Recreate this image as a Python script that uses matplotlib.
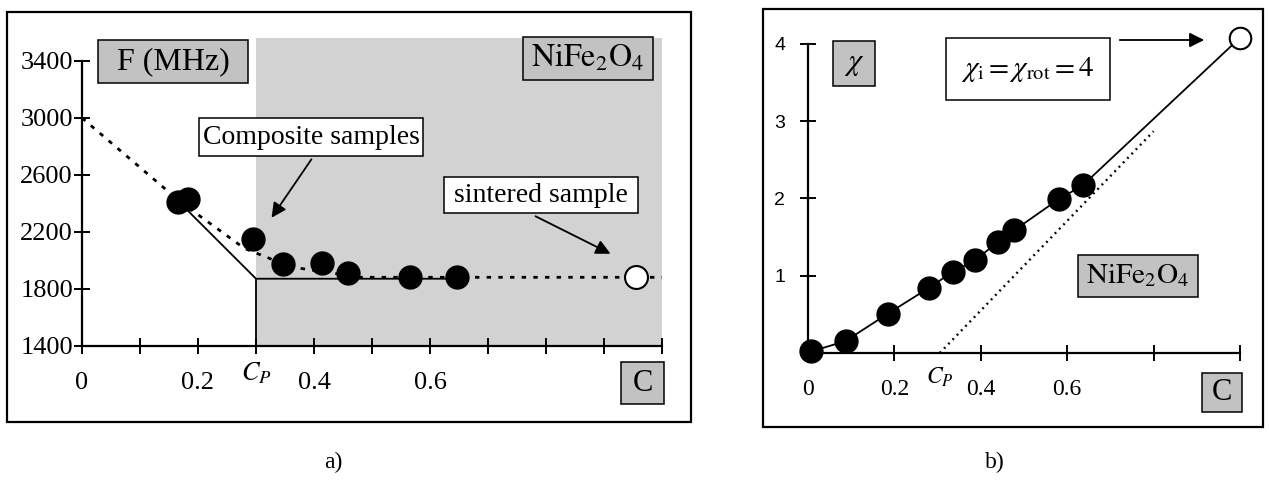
import numpy as np
import matplotlib
matplotlib.use("Agg")
import matplotlib.pyplot as plt
from matplotlib.patches import Rectangle, FancyArrowPatch

plt.rcParams['font.family'] = ['Liberation Serif', 'DejaVu Serif']
plt.rcParams['mathtext.fontset'] = 'stix'

# ---- data (a): resonance frequency vs concentration ----
comp_c = [0.165, 0.183, 0.295, 0.347, 0.414, 0.459, 0.566, 0.647]
comp_f = [2410, 2432, 2151, 1975, 1982, 1912, 1884, 1884]
sint_c = [0.955]
sint_f = [1884]
# dashed guide curve
guide_c = [0, 0.17, 0.28, 0.36, 0.48, 1.0]
guide_f = [3000, 2410, 2085, 1955, 1882, 1882]
# solid model line
model_c = [0.17, 0.3, 0.647]
model_f = [2400, 1872, 1872]
cp_a = 0.3
a_xticks = [0, 0.1, 0.2, 0.3, 0.4, 0.5, 0.6, 0.7, 0.8, 0.9, 1.0]
a_xlabels = ['0', '', '0.2', '', '0.4', '', '0.6', '', '', '', '']
a_yticks = [1400, 1800, 2200, 2600, 3000, 3400]

# ---- data (b): susceptibility vs concentration ----
chi_c = [0.008, 0.087, 0.185, 0.279, 0.335, 0.387, 0.44, 0.478, 0.58, 0.636]
chi_v = [0.02, 0.155, 0.51, 0.84, 1.05, 1.20, 1.44, 1.59, 1.99, 2.17]
rot_c = [1.0]
rot_v = [4.08]
dot_c = [0.305, 0.8]
dot_v = [0, 2.87]
cp_b = 0.305
b_xticks = [0, 0.2, 0.4, 0.6, 0.8, 1.0]
b_xlabels = ['0', '0.2', '0.4', '0.6', '', '']
b_yticks = [1, 2, 3, 4]

W, H = 1269, 494
GRAY_BOX = '#c2c2c2'
SHADE = '#d2d2d2'


def fpt(x, y):
    return (x / W, 1 - y / H)


def box(fig, x0, y0, x1, y1, text, fill, size, **kw):
    fig.patches.append(Rectangle(fpt(x0, y1), (x1 - x0) / W, (y1 - y0) / H,
                                 transform=fig.transFigure, facecolor=fill,
                                 edgecolor='k', lw=1.1, zorder=5))
    cx, cy = fpt((x0 + x1) / 2, (y0 + y1) / 2)
    fig.text(cx, cy, text, ha='center', va='center', fontsize=size, zorder=6, **kw)


def arrow(fig, x0, y0, x1, y1):
    fig.add_artist(FancyArrowPatch(
        fpt(x0, y0), fpt(x1, y1), transform=fig.transFigure,
        arrowstyle='-|>', mutation_scale=22, lw=1.3, color='k', zorder=6))


fig = plt.figure(figsize=(W / 100, H / 100), dpi=100)

# outer frames
fig.patches.append(Rectangle(fpt(7, 422), 684 / W, 410 / H, transform=fig.transFigure,
                             fill=False, edgecolor='k', lw=1.6))
fig.patches.append(Rectangle(fpt(763, 427), 500 / W, 418 / H, transform=fig.transFigure,
                             fill=False, edgecolor='k', lw=1.6))

# ---------------- panel a ----------------
ax = fig.add_axes([82 / W, (H - 346) / H, 580 / W, 308 / H])
ax.set_xlim(0, 1.0)
ax.set_ylim(1400, 3561)
ax.axvspan(cp_a, 1.0, color=SHADE, lw=0, zorder=0)
ax.plot(guide_c, guide_f, color='k', lw=2.0, ls=(0, (1.6, 2.6)), zorder=2)
ax.plot(model_c, model_f, color='k', lw=1.3, zorder=2)
ax.plot([cp_a, cp_a], [1400, model_f[1]], color='k', lw=1.3, zorder=2)
ax.plot(comp_c, comp_f, 'o', color='k', ms=16.5, zorder=4, clip_on=False)
ax.plot(sint_c, sint_f, 'o', mfc='white', mec='k', mew=1.5, ms=16.5, zorder=4, clip_on=False)

for s in ['top', 'right']:
    ax.spines[s].set_visible(False)
ax.spines['left'].set_bounds(1400, 3400)
ax.spines['left'].set_linewidth(1.6)
ax.spines['bottom'].set_linewidth(1.6)
ax.set_xticks(a_xticks)
ax.set_xticklabels(a_xlabels)
ax.set_yticks(a_yticks)
ax.tick_params(direction='inout', length=11, width=1.4, labelsize=19)
ax.tick_params(axis='x', pad=13)
ax.tick_params(axis='y', pad=1)
ax.patch.set_visible(False)
ax.text(cp_a, 1400 - 190, '$C_P$', ha='center', va='center', fontsize=19)

box(fig, 98, 40, 248, 83, 'F (MHz)', GRAY_BOX, 23)
box(fig, 523, 37, 653, 80, r'$\mathrm{NiFe_2O_4}$', GRAY_BOX, 23)
box(fig, 199, 118, 423, 156, 'Composite samples', 'white', 20)
box(fig, 444, 177, 638, 213, 'sintered sample', 'white', 20)
box(fig, 621, 362, 664, 404, 'C', GRAY_BOX, 22)
arrow(fig, 313, 157, 270, 220)
arrow(fig, 533, 215, 613, 255)

# ---------------- panel b ----------------
bx = fig.add_axes([808 / W, (H - 353) / H, 432 / W, 324.5 / H])
bx.set_xlim(0, 1.0)
bx.set_ylim(0, 4.2)
bx.plot(dot_c, dot_v, color='k', lw=1.7, ls=(0, (0.8, 1.8)), zorder=2)
bx.plot(chi_c + rot_c, chi_v + rot_v, color='k', lw=1.3, zorder=2)
bx.plot(chi_c, chi_v, 'o', color='k', ms=16.5, zorder=4, clip_on=False)
bx.plot(rot_c, rot_v, 'o', mfc='white', mec='k', mew=1.5, ms=15.5, zorder=4, clip_on=False)

for s in ['top', 'right']:
    bx.spines[s].set_visible(False)
bx.spines['left'].set_bounds(0, 4)
bx.spines['left'].set_linewidth(1.6)
bx.spines['bottom'].set_linewidth(1.6)
bx.set_xticks(b_xticks)
bx.set_xticklabels(b_xlabels)
bx.set_yticks(b_yticks)
bx.tick_params(direction='inout', length=11, width=1.4)
bx.tick_params(axis='x', labelsize=17, pad=13)
bx.tick_params(axis='y', labelsize=14, pad=11)
for lab in bx.get_yticklabels():
    lab.set_family(['Liberation Sans', 'DejaVu Sans'])
bx.patch.set_visible(False)
bx.text(cp_b, -0.32, '$C_P$', ha='center', va='center', fontsize=17)

box(fig, 833, 41, 875, 86, r'$\chi$', GRAY_BOX, 22)
box(fig, 946, 38, 1110, 100, r'$\chi_{\mathrm{i}}=\chi_{\mathrm{rot}}=4$', 'white', 21)
box(fig, 1078, 255, 1198, 297, r'$\mathrm{NiFe_2O_4}$', GRAY_BOX, 21)
box(fig, 1202, 373, 1242, 412, 'C', GRAY_BOX, 22)
arrow(fig, 1117, 40, 1207, 40)

# captions
fig.text(*fpt(333, 462), 'a)', ha='center', va='center', fontsize=17)
fig.text(*fpt(995, 462), 'b)', ha='center', va='center', fontsize=17)

fig.savefig('out.png', dpi=100)
